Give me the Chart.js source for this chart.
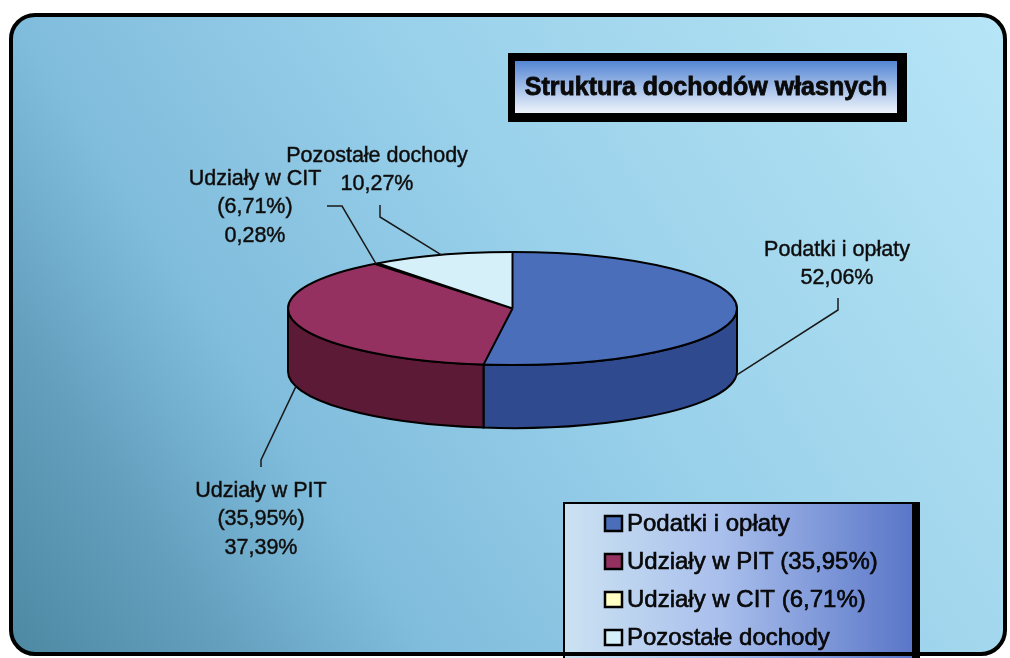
<!DOCTYPE html>
<html>
<head>
<meta charset="utf-8">
<script src="https://cdn.jsdelivr.net/npm/chart.js@4/dist/chart.umd.min.js"></script>
<style>
  body { margin: 0; background: #fff; }
  #wrap { position: absolute; left: 0; top: 0; width: 1010px; height: 658px; }
</style>
</head>
<body>
<div id="wrap"><canvas id="pieChart" width="1010" height="658"></canvas></div>
<script>
// data
const legendNames = ["Podatki i opłaty", "Udziały w PIT (35,95%)", "Udziały w CIT (6,71%)", "Pozostałe dochody"];
const labelNames = [["Podatki i opłaty"], ["Udziały w PIT", "(35,95%)"], ["Udziały w CIT", "(6,71%)"], ["Pozostałe dochody"]];
const shares = [52.06, 37.39, 0.28, 10.27];
const chartTitle = "Struktura dochodów własnych";

// styles
const topColors = ["#4a6eb9", "#943160", "#ffffc4", "#d6f0f9"];
const sideColors = ["#2f4a8e", "#5c1a36", "#c9c98f", "#a3c4d2"];
const TILT = 0.252;
const DEPTH = 63;
const LABEL_FONT = "21.5px 'Liberation Sans', Arial, sans-serif";
const LEGEND_FONT = "24px 'Liberation Sans', Arial, sans-serif";

// label text centres and leader elbows, per slice
const labelPos = [
  { x: 837, y: 250, leader: [[838, 298], [838, 310]] },
  { x: 261, y: 491, leader: [[261, 467], [261, 460]] },
  { x: 255, y: 179, leader: [[327, 206], [342, 206]] },
  { x: 377, y: 156, leader: [[380, 205], [380, 217]] }
];

function fmt(v) {
  return v.toFixed(2).replace(".", ",") + "%";
}

function pieGeom(chart) {
  let arcs = chart.getDatasetMeta(0).data;
  let a = arcs[0];
  return { arcs: arcs, cx: a.x, cy: a.y, r: a.outerRadius, ry: a.outerRadius * TILT };
}

function roundRect(ctx, x, y, w, h, r) {
  ctx.beginPath();
  ctx.moveTo(x + r, y);
  ctx.arcTo(x + w, y, x + w, y + h, r);
  ctx.arcTo(x + w, y + h, x, y + h, r);
  ctx.arcTo(x, y + h, x, y, r);
  ctx.arcTo(x, y, x + w, y, r);
  ctx.closePath();
}

// slightly heavier text, like the scanned original
function boldText(ctx, t, x, y) {
  ctx.fillText(t, x, y);
  ctx.strokeText(t, x, y);
}

const frame = {
  id: "frame",
  beforeDraw(chart) {
    let ctx = chart.ctx;
    ctx.save();
    ctx.fillStyle = "#fff";
    ctx.fillRect(0, 0, chart.width, chart.height);
    let g = ctx.createLinearGradient(0, 658, 1010, 0);
    g.addColorStop(0, "#4b87a0");
    g.addColorStop(0.16, "#64a0be");
    g.addColorStop(0.3, "#80bcdc");
    g.addColorStop(0.55, "#98d0ea");
    g.addColorStop(0.8, "#aadcf0");
    g.addColorStop(1, "#b8e6f8");
    roundRect(ctx, 11, 15, 994, 639, 24);
    ctx.fillStyle = g;
    ctx.fill();
    ctx.restore();
  },
  afterDraw(chart) {
    let ctx = chart.ctx;
    ctx.save();
    // title box
    ctx.fillStyle = "#000";
    ctx.fillRect(508, 53, 399, 69);
    let tg = ctx.createLinearGradient(0, 61, 0, 113);
    tg.addColorStop(0, "#5586d4");
    tg.addColorStop(1, "#eef4fb");
    ctx.fillStyle = tg;
    ctx.fillRect(515, 61, 382, 52);
    ctx.fillStyle = "#0a0a0a";
    ctx.strokeStyle = "#0a0a0a";
    ctx.lineWidth = 0.8;
    ctx.font = "bold 25px 'Liberation Sans', Arial, sans-serif";
    ctx.textAlign = "center";
    ctx.textBaseline = "middle";
    boldText(ctx, chartTitle, 706, 88);

    // legend box
    ctx.fillStyle = "#000";
    ctx.fillRect(563, 502, 357, 160);
    let lg = ctx.createLinearGradient(565, 0, 912, 0);
    lg.addColorStop(0, "#cbe2f2");
    lg.addColorStop(0.45, "#a9bfec");
    lg.addColorStop(1, "#5a76c8");
    ctx.fillStyle = lg;
    ctx.fillRect(565, 504, 347, 160);
    ctx.font = LEGEND_FONT;
    ctx.textAlign = "left";
    legendNames.forEach((name, i) => {
      let y = 523 + i * 38;
      ctx.fillStyle = topColors[i];
      ctx.fillRect(605, y - 7, 17, 15);
      ctx.strokeStyle = "#000";
      ctx.lineWidth = 2.5;
      ctx.strokeRect(605, y - 7, 17, 15);
      ctx.fillStyle = "#0a0a0a";
      ctx.lineWidth = 0.6;
      boldText(ctx, name, 627, y + 1);
    });

    // outer frame
    roundRect(ctx, 11, 15, 994, 639, 24);
    ctx.strokeStyle = "#000";
    ctx.lineWidth = 4;
    ctx.stroke();
    ctx.restore();
  }
};

const pie3d = {
  id: "pie3d",
  beforeDatasetsDraw(chart) {
    let ctx = chart.ctx;
    let p = pieGeom(chart);
    ctx.save();
    ctx.lineWidth = 2;
    ctx.strokeStyle = "#000";
    p.arcs.forEach((arc, i) => {
      let a = Math.max(arc.startAngle, 0);
      let b = Math.min(arc.endAngle, Math.PI);
      if (b <= a) return;
      ctx.beginPath();
      ctx.ellipse(p.cx, p.cy, p.r, p.ry, 0, a, b);
      ctx.ellipse(p.cx, p.cy + DEPTH, p.r, p.ry, 0, b, a, true);
      ctx.closePath();
      ctx.fillStyle = sideColors[i];
      ctx.fill();
      ctx.stroke();
    });
    ctx.restore();
    ctx.save();
    ctx.translate(p.cx, p.cy);
    ctx.scale(1, TILT);
    ctx.translate(-p.cx, -p.cy);
  },
  afterDatasetsDraw(chart) {
    let ctx = chart.ctx;
    ctx.restore();
    let p = pieGeom(chart);
    ctx.save();
    ctx.strokeStyle = "#000";
    ctx.lineWidth = 2;
    ctx.beginPath();
    ctx.ellipse(p.cx, p.cy, p.r, p.ry, 0, 0, Math.PI * 2);
    ctx.stroke();
    ctx.beginPath();
    p.arcs.forEach((arc) => {
      ctx.moveTo(p.cx, p.cy);
      ctx.lineTo(p.cx + p.r * Math.cos(arc.startAngle), p.cy + p.ry * Math.sin(arc.startAngle));
    });
    ctx.stroke();

    // data labels with leader lines
    ctx.strokeStyle = "#1a1a1a";
    ctx.fillStyle = "#0a0a0a";
    ctx.font = LABEL_FONT;
    ctx.textAlign = "center";
    ctx.textBaseline = "middle";
    p.arcs.forEach((arc, i) => {
      let mid = (arc.startAngle + arc.endAngle) / 2;
      let ex = p.cx + p.r * Math.cos(mid);
      let ey = p.cy + p.ry * Math.sin(mid) + (Math.sin(mid) > 0 ? DEPTH : 0);
      let lp = labelPos[i];
      ctx.lineWidth = 1.5;
      ctx.beginPath();
      ctx.moveTo(lp.leader[0][0], lp.leader[0][1]);
      ctx.lineTo(lp.leader[1][0], lp.leader[1][1]);
      ctx.lineTo(ex, ey);
      ctx.stroke();
      ctx.lineWidth = 0.5;
      let lines = labelNames[i].concat([fmt(shares[i])]);
      lines.forEach((t, k) => {
        boldText(ctx, t, lp.x, lp.y + k * 28.5);
      });
    });
    ctx.restore();
  }
};

new Chart(document.getElementById("pieChart").getContext("2d"), {
  type: "pie",
  data: {
    labels: legendNames,
    datasets: [
      {
        data: shares,
        backgroundColor: topColors,
        borderWidth: 0,
      },
    ],
  },
  options: {
    responsive: false,
    animation: false,
    events: [],
    layout: {
      padding: { left: 288, right: 273, top: 84, bottom: 125 },
    },
    plugins: {
      legend: { display: false },
      tooltip: { enabled: false },
      title: { display: false },
    },
  },
  plugins: [frame, pie3d],
});
</script>
</body>
</html>
